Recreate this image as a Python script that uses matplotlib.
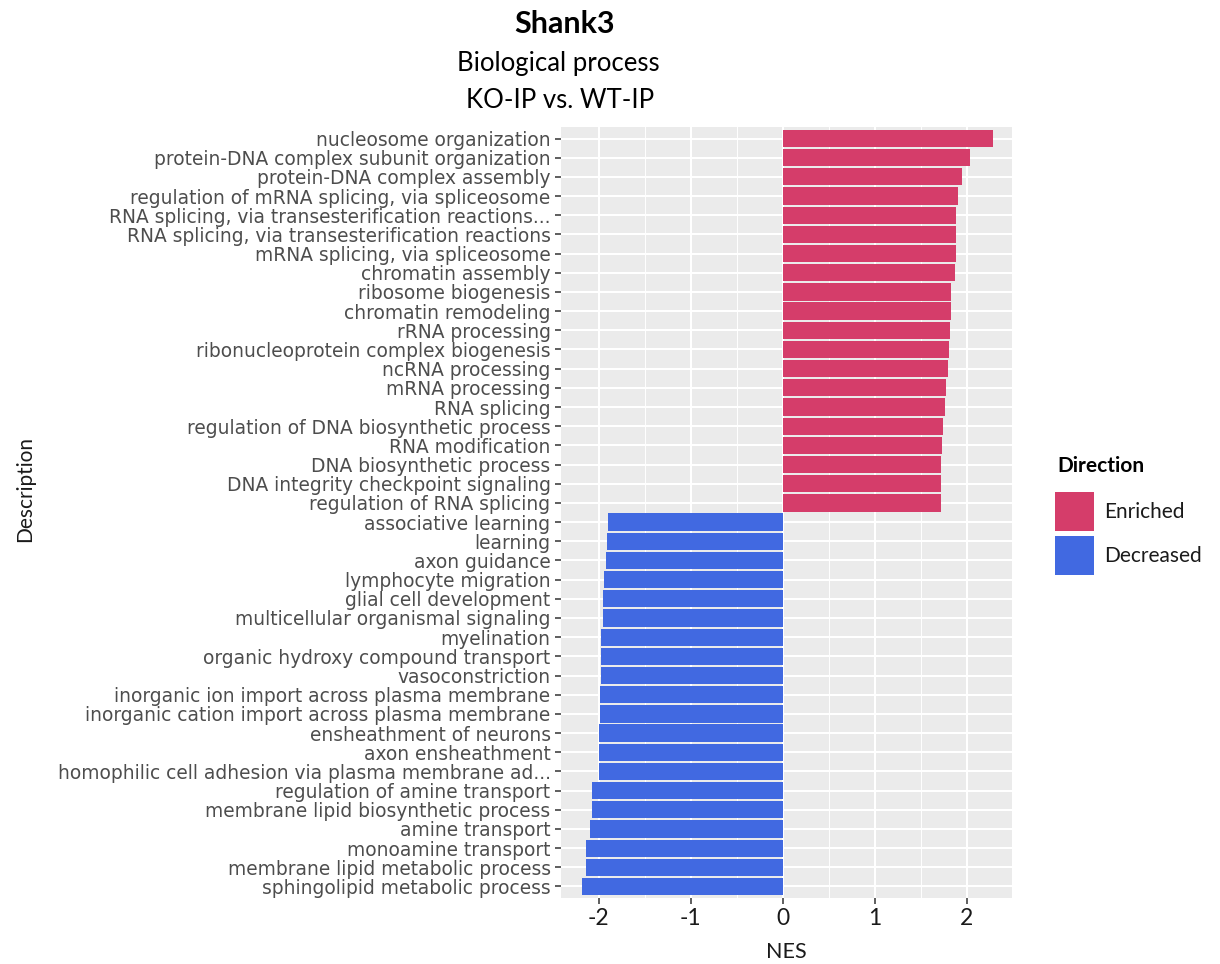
import numpy as np
import matplotlib
matplotlib.use("Agg")
import matplotlib.pyplot as plt
from matplotlib.patches import Rectangle

# GO terms, top to bottom as in the chart
terms = [
    "nucleosome organization",
    "protein-DNA complex subunit organization",
    "protein-DNA complex assembly",
    "regulation of mRNA splicing, via spliceosome",
    "RNA splicing, via transesterification reactions...",
    "RNA splicing, via transesterification reactions",
    "mRNA splicing, via spliceosome",
    "chromatin assembly",
    "ribosome biogenesis",
    "chromatin remodeling",
    "rRNA processing",
    "ribonucleoprotein complex biogenesis",
    "ncRNA processing",
    "mRNA processing",
    "RNA splicing",
    "regulation of DNA biosynthetic process",
    "RNA modification",
    "DNA biosynthetic process",
    "DNA integrity checkpoint signaling",
    "regulation of RNA splicing",
    "associative learning",
    "learning",
    "axon guidance",
    "lymphocyte migration",
    "glial cell development",
    "multicellular organismal signaling",
    "myelination",
    "organic hydroxy compound transport",
    "vasoconstriction",
    "inorganic ion import across plasma membrane",
    "inorganic cation import across plasma membrane",
    "ensheathment of neurons",
    "axon ensheathment",
    "homophilic cell adhesion via plasma membrane ad...",
    "regulation of amine transport",
    "membrane lipid biosynthetic process",
    "amine transport",
    "monoamine transport",
    "membrane lipid metabolic process",
    "sphingolipid metabolic process",
]

nes = [
    2.28, 2.03, 1.95, 1.90, 1.88, 1.88, 1.88, 1.87, 1.83, 1.83,
    1.82, 1.81, 1.79, 1.77, 1.76, 1.74, 1.73, 1.72, 1.72, 1.72,
    -1.90, -1.91, -1.92, -1.94, -1.95, -1.95, -1.97, -1.98, -1.98, -1.99,
    -1.99, -2.00, -2.00, -2.00, -2.07, -2.07, -2.10, -2.14, -2.14, -2.18,
]

pink = "#D53D6A"
blue = "#4169E1"
colors = [pink if v > 0 else blue for v in nes]

fig = plt.figure(figsize=(12.2, 9.64), dpi=100)
ax = fig.add_axes([561 / 1220, 66 / 964, 451 / 1220, 771 / 964])

ax.set_facecolor("#EBEBEB")
for s in ax.spines.values():
    s.set_visible(False)

y = np.arange(len(terms))
ax.barh(y, nes, height=0.9, color=colors, zorder=3)

ax.set_ylim(len(terms) - 1 + 0.6, -0.6)
ax.set_xlim(-2.41, 2.49)

ax.set_yticks(y)
ax.set_yticklabels(terms, fontfamily="DejaVu Sans", fontsize=13.45, color="#4D4D4D")
ax.set_xticks([-2, -1, 0, 1, 2])
ax.set_xticklabels(["-2", "-1", "0", "1", "2"], fontfamily="Lato", fontsize=16.5, color="#1A1A1A")
ax.set_xticks([-1.5, -0.5, 0.5, 1.5], minor=True)
ax.tick_params(axis="both", which="major", length=4.5, width=1.1, color="#333333", pad=3)
ax.tick_params(axis="x", which="minor", length=0)

ax.grid(True, which="major", color="white", linewidth=1.5, zorder=0)
ax.grid(True, which="minor", axis="x", color="white", linewidth=0.7, zorder=0)
ax.set_axisbelow(True)

ax.set_xlabel("NES", fontfamily="Lato", fontsize=15.5, color="#1A1A1A", labelpad=9)
fig.text(25 / 1220, 1 - 489 / 964, "Description", rotation=90, ha="center", va="center",
         fontfamily="Lato", fontsize=15, color="#1A1A1A")

# titles
fig.text(565 / 1220, 1 - 24 / 964, "Shank3", ha="center", va="center",
         fontfamily="Lato", fontweight="bold", fontsize=22, color="black")
fig.text(558 / 1220, 1 - 63 / 964, "Biological process", ha="center", va="center",
         fontfamily="Lato", fontsize=18.5, color="black")
fig.text(560 / 1220, 1 - 100 / 964, "KO-IP vs. WT-IP", ha="center", va="center",
         fontfamily="Lato", fontsize=18.5, color="black")

# legend
fig.text(1057 / 1220, 1 - 466 / 964, "Direction", ha="left", va="center",
         fontfamily="Lato", fontweight="bold", fontsize=15, color="black")
for i, (lab, col) in enumerate([("Enriched", pink), ("Decreased", blue)]):
    top = 492 + i * 44
    fig.add_artist(Rectangle((1055 / 1220, 1 - (top + 39) / 964), 39 / 1220, 39 / 964,
                             transform=fig.transFigure, facecolor=col, edgecolor="none"))
    fig.text(1104 / 1220, 1 - (top + 20) / 964, lab, ha="left", va="center",
             fontfamily="Lato", fontsize=15, color="#1A1A1A")

fig.savefig("out.png", dpi=100, facecolor="white")
